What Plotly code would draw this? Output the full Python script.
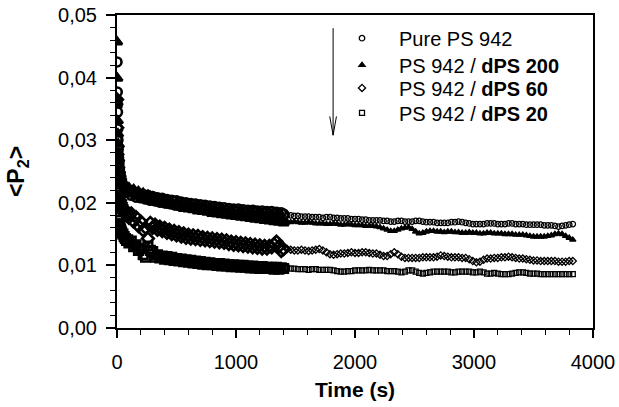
import plotly.graph_objects as go

# ---------------- data ----------------
T_DENSE = [0, 2, 4, 6, 8, 10, 13, 16, 20, 25, 30, 35, 40, 50, 60, 70, 80, 90,
           100, 120, 140, 160, 180, 200, 220, 240, 260, 280, 300, 320, 340, 360, 380,
           400, 420, 440, 460, 480, 500, 520, 540, 560, 580, 600, 620, 640, 660, 680,
           700, 720, 740, 760, 780, 800, 820, 840, 860, 880, 900, 920, 940, 960, 980,
           1000, 1020, 1040, 1060, 1080, 1100, 1120, 1140, 1160, 1180, 1200, 1220, 1240,
           1260, 1280, 1300, 1320, 1340, 1360, 1380, 1400]

T_SPARSE = [1430, 1460, 1490, 1520, 1550, 1580, 1610, 1640, 1670, 1700,
            1730, 1760, 1790, 1820, 1850, 1880, 1910, 1940, 1970, 2000,
            2030, 2060, 2090, 2120, 2150, 2180, 2210, 2240, 2270, 2300,
            2330, 2360, 2390, 2420, 2450, 2480, 2510, 2540, 2570, 2600,
            2630, 2660, 2690, 2720, 2750, 2780, 2810, 2840, 2870, 2900,
            2930, 2960, 2990, 3020, 3050, 3080, 3110, 3140, 3170, 3200,
            3230, 3260, 3290, 3320, 3350, 3380, 3410, 3440, 3470, 3500,
            3530, 3560, 3590, 3620, 3650, 3680, 3710, 3740, 3770, 3800,
            3830]

PURE_DENSE = [0.0425, 0.0377, 0.0345, 0.0318, 0.0300, 0.0285, 0.0272, 0.0262, 0.0253,
              0.0246, 0.0240, 0.0236, 0.0232, 0.0227, 0.0224, 0.0221, 0.0219, 0.0217,
              0.0219, 0.0212, 0.0217, 0.0209, 0.0215, 0.0208, 0.0213, 0.0206, 0.0212,
              0.0204, 0.0210, 0.0203, 0.0208, 0.0201, 0.0207, 0.0200, 0.0205, 0.0199,
              0.0204, 0.0197, 0.0203, 0.0196, 0.0201, 0.0195, 0.0200, 0.0194, 0.0199,
              0.0193, 0.0198, 0.0192, 0.0197, 0.0191, 0.0196, 0.0190, 0.0195, 0.0189,
              0.0194, 0.0189, 0.0193, 0.0188, 0.0192, 0.0187, 0.0191, 0.0186, 0.0190,
              0.0186, 0.0190, 0.0185, 0.0189, 0.0185, 0.0188, 0.0184, 0.0188, 0.0184,
              0.0187, 0.0183, 0.0187, 0.0183, 0.0186, 0.0182, 0.0186, 0.0182, 0.0185,
              0.0181, 0.0184, 0.0182]
PURE_SPARSE = [0.0180, 0.0180, 0.0179, 0.0179, 0.0178, 0.0178, 0.0178, 0.0177, 0.0177, 0.0177,
               0.0176, 0.0177, 0.0177, 0.0176, 0.0176, 0.0175, 0.0175, 0.0175, 0.0174, 0.0174,
               0.0174, 0.0173, 0.0173, 0.0172, 0.0172, 0.0172, 0.0172, 0.0171, 0.0171, 0.0170,
               0.0170, 0.0171, 0.0171, 0.0170, 0.0170, 0.0170, 0.0171, 0.0171, 0.0170, 0.0169,
               0.0169, 0.0169, 0.0168, 0.0168, 0.0168, 0.0168, 0.0169, 0.0169, 0.0170, 0.0169,
               0.0168, 0.0167, 0.0166, 0.0166, 0.0166, 0.0166, 0.0167, 0.0167, 0.0167, 0.0166,
               0.0166, 0.0166, 0.0167, 0.0167, 0.0166, 0.0166, 0.0166, 0.0165, 0.0165, 0.0165,
               0.0165, 0.0165, 0.0164, 0.0164, 0.0164, 0.0163, 0.0162, 0.0163, 0.0164, 0.0165,
               0.0166]

D200_DENSE = [0.0457, 0.0399, 0.0360, 0.0331, 0.0310, 0.0294, 0.0280, 0.0269, 0.0259,
              0.0251, 0.0245, 0.0240, 0.0236, 0.0231, 0.0227, 0.0224, 0.0221, 0.0219,
              0.0224, 0.0217, 0.0221, 0.0213, 0.0218, 0.0210, 0.0215, 0.0207, 0.0212,
              0.0205, 0.0209, 0.0202, 0.0207, 0.0200, 0.0205, 0.0198, 0.0203, 0.0196,
              0.0201, 0.0195, 0.0199, 0.0193, 0.0198, 0.0191, 0.0196, 0.0190, 0.0195,
              0.0189, 0.0193, 0.0187, 0.0192, 0.0186, 0.0190, 0.0185, 0.0189, 0.0183,
              0.0188, 0.0182, 0.0186, 0.0181, 0.0185, 0.0180, 0.0184, 0.0179, 0.0183,
              0.0178, 0.0182, 0.0177, 0.0181, 0.0176, 0.0180, 0.0175, 0.0179, 0.0174,
              0.0178, 0.0173, 0.0177, 0.0172, 0.0176, 0.0171, 0.0175, 0.0170, 0.0174,
              0.0169, 0.0173, 0.0168]
D200_SPARSE = [0.0170, 0.0169, 0.0170, 0.0169, 0.0168, 0.0168, 0.0169, 0.0168, 0.0167, 0.0167,
               0.0167, 0.0166, 0.0166, 0.0167, 0.0166, 0.0165, 0.0165, 0.0166, 0.0165, 0.0164,
               0.0164, 0.0164, 0.0163, 0.0163, 0.0163, 0.0162, 0.0161, 0.0159, 0.0157, 0.0155,
               0.0155, 0.0157, 0.0159, 0.0160, 0.0161, 0.0158, 0.0154, 0.0151, 0.0152, 0.0154,
               0.0155, 0.0155, 0.0154, 0.0154, 0.0153, 0.0154, 0.0154, 0.0153, 0.0153, 0.0152,
               0.0152, 0.0153, 0.0152, 0.0152, 0.0151, 0.0151, 0.0152, 0.0152, 0.0151, 0.0151,
               0.0151, 0.0150, 0.0150, 0.0150, 0.0149, 0.0149, 0.0149, 0.0148, 0.0147, 0.0146,
               0.0146, 0.0146, 0.0146, 0.0147, 0.0148, 0.0150, 0.0151, 0.0150, 0.0147, 0.0144,
               0.0141]

D60_DENSE = [0.0365, 0.0320, 0.0290, 0.0268, 0.0250, 0.0238, 0.0226, 0.0217, 0.0210,
             0.0204, 0.0200, 0.0197, 0.0194, 0.0190, 0.0184, 0.0188, 0.0180, 0.0184,
             0.0176, 0.0183, 0.0170, 0.0177, 0.0163, 0.0170, 0.0156, 0.0160, 0.0143,
             0.0168, 0.0160, 0.0165, 0.0157, 0.0162, 0.0155, 0.0160, 0.0152, 0.0157,
             0.0150, 0.0155, 0.0148, 0.0153, 0.0146, 0.0151, 0.0144, 0.0149, 0.0143,
             0.0148, 0.0142, 0.0147, 0.0141, 0.0145, 0.0140, 0.0144, 0.0139, 0.0143,
             0.0138, 0.0142, 0.0137, 0.0141, 0.0136, 0.0140, 0.0134, 0.0138, 0.0133,
             0.0137, 0.0132, 0.0136, 0.0131, 0.0135, 0.0130, 0.0134, 0.0129, 0.0133,
             0.0128, 0.0132, 0.0127, 0.0131, 0.0127, 0.0131, 0.0129, 0.0134, 0.0138,
             0.0130, 0.0123, 0.0126]
D60_SPARSE = [0.0126, 0.0125, 0.0124, 0.0124, 0.0125, 0.0124, 0.0123, 0.0124, 0.0125, 0.0126,
              0.0124, 0.0121, 0.0118, 0.0117, 0.0118, 0.0119, 0.0119, 0.0120, 0.0121, 0.0120,
              0.0120, 0.0121, 0.0121, 0.0120, 0.0119, 0.0119, 0.0117, 0.0115, 0.0115, 0.0118,
              0.0121, 0.0118, 0.0114, 0.0112, 0.0112, 0.0112, 0.0112, 0.0112, 0.0113, 0.0113,
              0.0113, 0.0113, 0.0114, 0.0116, 0.0115, 0.0114, 0.0113, 0.0113, 0.0113, 0.0112,
              0.0112, 0.0110, 0.0107, 0.0105, 0.0106, 0.0109, 0.0111, 0.0111, 0.0112, 0.0112,
              0.0113, 0.0113, 0.0114, 0.0113, 0.0112, 0.0111, 0.0111, 0.0110, 0.0109, 0.0108,
              0.0108, 0.0107, 0.0107, 0.0107, 0.0107, 0.0107, 0.0106, 0.0106, 0.0106, 0.0107,
              0.0107]

D20_DENSE = [0.0360, 0.0300, 0.0255, 0.0225, 0.0205, 0.0190, 0.0180, 0.0172, 0.0166,
             0.0162, 0.0158, 0.0155, 0.0152, 0.0150, 0.0146, 0.0143, 0.0140, 0.0141,
             0.0136, 0.0139, 0.0130, 0.0133, 0.0124, 0.0127, 0.0117, 0.0113, 0.0131,
             0.0124, 0.0122, 0.0113, 0.0117, 0.0112, 0.0115, 0.0110, 0.0114, 0.0109,
             0.0113, 0.0108, 0.0111, 0.0107, 0.0110, 0.0106, 0.0109, 0.0105, 0.0108,
             0.0104, 0.0107, 0.0103, 0.0106, 0.0102, 0.0105, 0.0101, 0.0104, 0.0101,
             0.0103, 0.0100, 0.0103, 0.0099, 0.0102, 0.0099, 0.0101, 0.0098, 0.0101,
             0.0098, 0.0100, 0.0097, 0.0100, 0.0097, 0.0099, 0.0096, 0.0099, 0.0096,
             0.0098, 0.0095, 0.0098, 0.0095, 0.0097, 0.0095, 0.0097, 0.0094, 0.0097,
             0.0094, 0.0096, 0.0095]
D20_SPARSE = [0.0096, 0.0095, 0.0095, 0.0094, 0.0094, 0.0094, 0.0093, 0.0094, 0.0094, 0.0093,
              0.0093, 0.0093, 0.0093, 0.0092, 0.0091, 0.0090, 0.0090, 0.0091, 0.0091, 0.0092,
              0.0092, 0.0092, 0.0092, 0.0093, 0.0092, 0.0092, 0.0092, 0.0092, 0.0091, 0.0091,
              0.0091, 0.0090, 0.0089, 0.0090, 0.0092, 0.0092, 0.0090, 0.0088, 0.0087, 0.0088,
              0.0089, 0.0090, 0.0090, 0.0090, 0.0090, 0.0090, 0.0089, 0.0089, 0.0090, 0.0090,
              0.0090, 0.0090, 0.0089, 0.0089, 0.0090, 0.0089, 0.0087, 0.0087, 0.0088, 0.0087,
              0.0086, 0.0086, 0.0086, 0.0087, 0.0088, 0.0089, 0.0089, 0.0088, 0.0087, 0.0087,
              0.0087, 0.0086, 0.0086, 0.0086, 0.0086, 0.0086, 0.0086, 0.0086, 0.0086, 0.0086,
              0.0086]

SERIES_NAMES = ["Pure PS 942", "PS 942 / <b>dPS 200</b>",
                "PS 942 / <b>dPS 60</b>", "PS 942 / <b>dPS 20</b>"]

X_TICKS = [0, 1000, 2000, 3000, 4000]
Y_TICKS = [0.00, 0.01, 0.02, 0.03, 0.04, 0.05]
Y_LABELS = ["0,00", "0,01", "0,02", "0,03", "0,04", "0,05"]

for arr in (PURE_DENSE, D200_DENSE, D60_DENSE, D20_DENSE):
    assert len(arr) == len(T_DENSE), len(arr)
for arr in (PURE_SPARSE, D200_SPARSE, D60_SPARSE, D20_SPARSE):
    assert len(arr) == len(T_SPARSE), len(arr)

# ---------------- figure ----------------
series = [
    (SERIES_NAMES[0], PURE_DENSE, PURE_SPARSE, "circle-open", 5.5),
    (SERIES_NAMES[1], D200_DENSE, D200_SPARSE, "triangle-up", 5.5),
    (SERIES_NAMES[2], D60_DENSE, D60_SPARSE, "diamond-open", 5.5),
    (SERIES_NAMES[3], D20_DENSE, D20_SPARSE, "square-open", 5),
]
LEGEND_IDS = ["legend", "legend2", "legend3", "legend4"]

fig = go.Figure()
for i, (name, dense, sparse, sym, sz) in enumerate(series):
    # densely sampled start of the run: heavy, overlapping markers
    fig.add_trace(go.Scatter(
        x=T_DENSE, y=dense, mode="markers", name=name, showlegend=False,
        legendgroup=str(i),
        marker=dict(symbol=sym, size=sz + 3.5, color="black",
                    line=dict(width=2.6, color="black")),
    ))
    # sparsely sampled rest of the run
    fig.add_trace(go.Scatter(
        x=T_SPARSE, y=sparse, mode="markers", name=name, legend=LEGEND_IDS[i],
        legendgroup=str(i),
        marker=dict(symbol=sym, size=sz, color="black",
                    line=dict(width=1.3, color="black")),
    ))

# arrow beside the legend
arrow = dict(type="line", xref="x", yref="y", line=dict(color="black", width=1))
fig.add_shape(**arrow, x0=1816, x1=1816, y0=0.0479, y1=0.0308)
fig.add_shape(**arrow, x0=1788, x1=1816, y0=0.0338, y1=0.0308)
fig.add_shape(**arrow, x0=1844, x1=1816, y0=0.0338, y1=0.0308)

FONT = "Liberation Sans, Arial, Helvetica, sans-serif"
LEG_Y = [0.926, 0.840, 0.767, 0.687]
leg_common = dict(x=0.437, xanchor="left", yanchor="middle",
                  bgcolor="rgba(0,0,0,0)", borderwidth=0,
                  font=dict(family=FONT, size=20, color="black"),
                  itemwidth=64)

fig.update_layout(
    width=619, height=407, autosize=False,
    margin=dict(l=117, r=26, t=15, b=79),
    paper_bgcolor="white", plot_bgcolor="white",
    font=dict(family=FONT, size=20, color="black"),
    showlegend=True,
    legend=dict(y=LEG_Y[0], **leg_common),
    legend2=dict(y=LEG_Y[1], **leg_common),
    legend3=dict(y=LEG_Y[2], **leg_common),
    legend4=dict(y=LEG_Y[3], **leg_common),
    xaxis=dict(range=[0, 4000], tickmode="array", tickvals=X_TICKS,
               ticks="outside", ticklen=8, tickwidth=1.5, tickcolor="black",
               showline=True, linewidth=2, linecolor="black", mirror=True,
               showgrid=False, zeroline=False, ticklabelstandoff=7,
               minor=dict(tickmode="linear", tick0=0, dtick=200, ticks="outside",
                          ticklen=5, tickwidth=1, tickcolor="black", showgrid=False),
               title=dict(text="<b>Time (s)</b>", font=dict(size=21), standoff=10),
               automargin=False),
    yaxis=dict(range=[0, 0.05], tickmode="array", tickvals=Y_TICKS, ticktext=Y_LABELS,
               ticks="outside", ticklen=9, tickwidth=1.5, tickcolor="black",
               showline=True, linewidth=2, linecolor="black", mirror=True,
               showgrid=False, zeroline=False, ticklabelstandoff=5,
               minor=dict(tickmode="linear", tick0=0, dtick=0.002, ticks="outside",
                          ticklen=5, tickwidth=1, tickcolor="black", showgrid=False),
               title=dict(text="<b>&lt;P<sub>2</sub>&gt;</b>", font=dict(size=23), standoff=27),
               automargin=False),
)

fig.write_html("out.html", config={"displayModeBar": False},
               post_script="document.body.style.margin='0px';document.body.style.padding='0px';")
